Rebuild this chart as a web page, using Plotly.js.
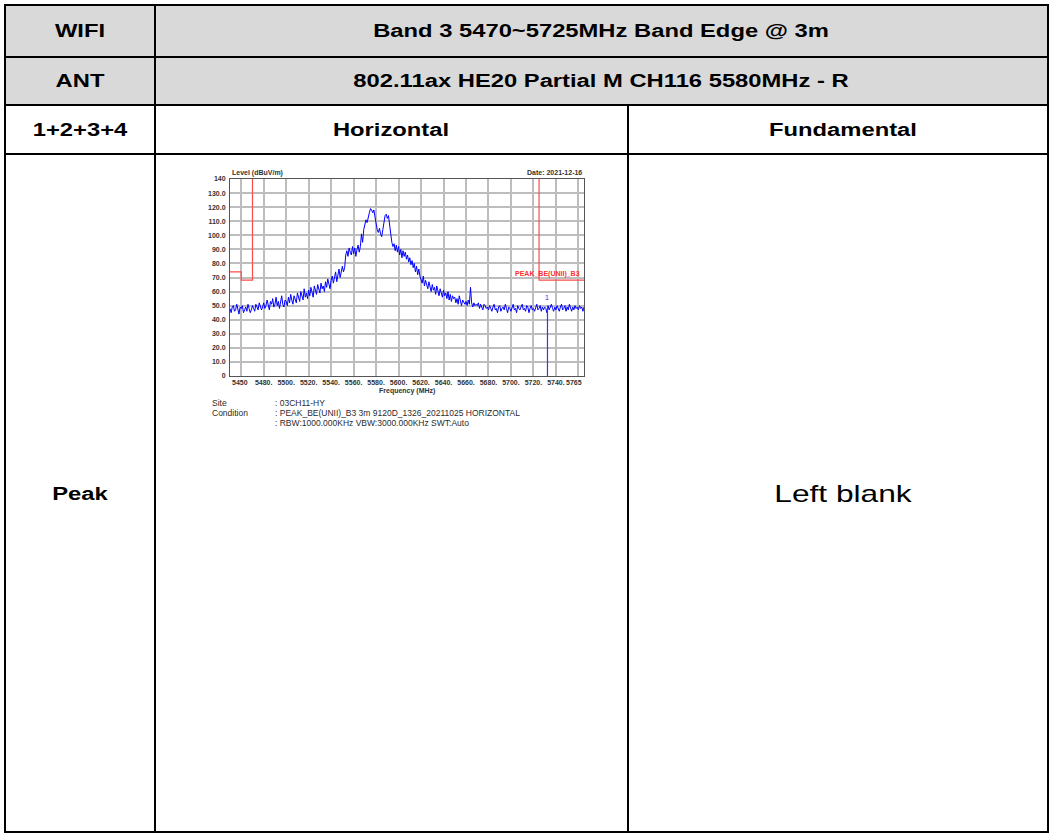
<!DOCTYPE html>
<html><head><meta charset="utf-8">
<script src="https://cdn.plot.ly/plotly-3.0.1.min.js"></script>
<style>
html,body{margin:0;padding:0;background:#fff;}
#page{position:relative;width:1051px;height:835px;overflow:hidden;font-family:"Liberation Sans",Arial,sans-serif;}
.box{position:absolute;}
.hl{position:absolute;height:2px;background:#000;}
.vl{position:absolute;width:2px;background:#000;}
.cell{position:absolute;white-space:nowrap;line-height:1;transform:translate(-50%,-50%) scaleX(1.32);font-weight:bold;font-size:18px;color:#000;}
.note{position:absolute;white-space:nowrap;font-size:8.5px;line-height:1;color:#2b2b2b;transform:translateY(-50%);}
#chart{position:absolute;left:156px;top:156px;width:470px;height:290px;}
</style></head>
<body>
<div id="page">
  <div class="box" style="left:5px;top:5px;width:1043px;height:100px;background:#d9d9d9;"></div>
  <div class="hl" style="left:4px;top:4px;width:1045px;"></div>
  <div class="hl" style="left:4px;top:56px;width:1045px;"></div>
  <div class="hl" style="left:4px;top:104px;width:1045px;"></div>
  <div class="hl" style="left:4px;top:153px;width:1045px;"></div>
  <div class="hl" style="left:4px;top:831px;width:1045px;"></div>
  <div class="vl" style="left:4px;top:4px;height:829px;"></div>
  <div class="vl" style="left:154px;top:4px;height:829px;"></div>
  <div class="vl" style="left:627px;top:104px;height:729px;"></div>
  <div class="vl" style="left:1047px;top:4px;height:829px;"></div>

  <div class="cell" style="left:80px;top:31px;">WIFI</div>
  <div class="cell" style="left:601px;top:31px;">Band 3 5470~5725MHz Band Edge @ 3m</div>
  <div class="cell" style="left:80px;top:81px;">ANT</div>
  <div class="cell" style="left:601px;top:81px;">802.11ax HE20 Partial M CH116 5580MHz - R</div>
  <div class="cell" style="left:80px;top:129.5px;">1+2+3+4</div>
  <div class="cell" style="left:391px;top:129.5px;">Horizontal</div>
  <div class="cell" style="left:843px;top:129.5px;">Fundamental</div>
  <div class="cell" style="left:80px;top:494px;">Peak</div>
  <div class="cell" style="left:843px;top:494px;font-weight:normal;font-size:24px;">Left blank</div>

  <div id="chart"></div>

  <div class="note" style="left:212px;top:403px;">Site</div>
  <div class="note" style="left:275px;top:403px;">: 03CH11-HY</div>
  <div class="note" style="left:212px;top:413px;">Condition</div>
  <div class="note" style="left:275px;top:413px;">: PEAK_BE(UNII)_B3 3m 9120D_1326_20211025 HORIZONTAL</div>
  <div class="note" style="left:275px;top:423px;">: RBW:1000.000KHz VBW:3000.000KHz SWT:Auto</div>
</div>
<script>
// ---- data ----
const freqStart = 5450;   // MHz, first sample
const freqStep = 1;       // MHz between samples
const levels = [
  48,45,49,50,46,47,51,46,44,49,
  48,50,45,47,49,46,51,48,45,47,
  50,48,46,51,49,47,52,50,47,49,
  52,48,50,54,49,47,53,51,55,49,
  51,56,50,53,48,52,57,51,49,54,
  53,50,56,52,58,54,51,57,55,52,
  59,55,53,60,57,54,62,56,59,55,
  61,57,63,59,56,64,60,58,65,61,
  59,66,62,64,60,67,63,69,65,62,
  68,71,66,70,74,67,72,76,70,73,
  78,74,77,86,89,85,91,88,86,92,
  87,91,85,90,93,88,92,101,95,104,
  107,111,109,114,116,119,118,116,118,113,
  107,104,102,105,101,99,104,111,114,115,
  112,114,107,100,95,92,94,89,93,88,
  92,86,90,84,89,85,88,83,86,81,
  84,79,82,77,80,74,78,72,76,71,
  69,66,71,64,68,65,62,67,63,60,
  65,61,63,58,64,60,57,62,59,56,
  61,57,59,55,60,54,58,53,57,55,
  56,52,55,51,57,53,50,54,52,51,
  53,50,54,51,63,52,49,52,50,51,
  50,52,48,51,49,47,51,50,48,49,
  47,50,48,46,49,51,47,48,45,49,
  50,46,48,49,47,51,48,45,49,48,
  46,49,51,47,48,45,50,48,47,49,
  51,47,48,46,50,49,45,48,50,47,
  48,46,49,51,47,48,50,46,49,47,
  49,48,45,50,47,49,51,48,46,49,
  47,50,48,46,49,51,47,48,50,46,
  49,47,51,48,46,49,47,50,48,49,
  47,50,48,49,46,49
];
const limitLeftX = [5450, 5460, 5460, 5470, 5470];
const limitLeftY = [74, 74, 68.2, 68.2, 140];
const limitRightX = [5725, 5725, 5765];
const limitRightY = [140, 68.2, 68.2];
const markerX = [5732.5, 5732.5];
const markerY = [0, 48];
const markerLabel = "1";
const limitLabel = "PEAK_BE(UNII)_B3";
const xTickVals = [5460,5480,5500,5520,5540,5560,5580,5600,5620,5640,5660,5680,5700,5720,5740,5760];
const xTickText = ["","5480.","5500.","5520.","5540.","5560.","5580.","5600.","5620.","5640.","5660.","5680.","5700.","5720.","5740.",""];
const xEndLabels = ["5450","5765"];
const xRange = [5450, 5765];
const yTickVals = [0,10,20,30,40,50,60,70,80,90,100,110,120,130,140];
const yTickText = ["0","10.0","20.0","30.0","40.0","50.0","60.0","70.0","80.0","90.0","100.0","110.0","120.0","130.0","140"];
const yRange = [0, 140];
const yTitle = "Level (dBuV/m)";
const xTitle = "Frequency (MHz)";
const dateText = "Date: 2021-12-16";

const freqs = levels.map((_, i) => freqStart + i * freqStep);

const lblFont = {family: "Liberation Sans, Arial, sans-serif", size: 7, color: "#333", weight: 700};

const traces = [
  {x: limitLeftX, y: limitLeftY, mode: "lines", line: {color: "#ff4a4a", width: 1.2}, hoverinfo: "skip"},
  {x: limitRightX, y: limitRightY, mode: "lines", line: {color: "#ff4a4a", width: 1.2}, hoverinfo: "skip"},
  {x: freqs, y: levels, mode: "lines", line: {color: "#0000ff", width: 1}, hoverinfo: "skip"},
  {x: markerX, y: markerY, mode: "lines", line: {color: "#3333ff", width: 1.2}, hoverinfo: "skip"}
];

const layout = {
  width: 470, height: 290,
  margin: {l: 74, r: 42, t: 23, b: 70, pad: 0},
  paper_bgcolor: "rgba(0,0,0,0)",
  plot_bgcolor: "#ffffff",
  showlegend: false,
  font: {family: "Liberation Sans, Arial, sans-serif", size: 7, color: "#333"},
  xaxis: {
    range: xRange, tickmode: "array", tickvals: xTickVals, ticktext: xTickText,
    showgrid: true, gridcolor: "#bdbdbd", gridwidth: 2, zeroline: false,
    showline: true, mirror: true, linecolor: "#555", linewidth: 1,
    ticks: "", tickfont: lblFont, ticklabelstandoff: 0
  },
  yaxis: {
    range: yRange, tickmode: "array", tickvals: yTickVals, ticktext: yTickText,
    showgrid: true, gridcolor: "#bdbdbd", gridwidth: 2, zeroline: false,
    showline: true, mirror: true, linecolor: "#555", linewidth: 1,
    ticks: "", tickfont: lblFont, ticklabelstandoff: 2
  },
  annotations: [
    {text: yTitle, xref: "paper", yref: "paper", x: 0, y: 1, xanchor: "left", yanchor: "bottom", showarrow: false, font: lblFont, yshift: 0},
    {text: dateText, xref: "paper", yref: "paper", x: 1, y: 1, xanchor: "right", yanchor: "bottom", showarrow: false, font: lblFont, yshift: 1},
    {text: xTitle, xref: "paper", yref: "paper", x: 0.5, y: 0, xanchor: "center", yanchor: "top", showarrow: false, font: lblFont, yshift: -9},
    {text: xEndLabels[0], xref: "x", yref: "paper", x: xRange[0], y: 0, xanchor: "left", yanchor: "top", showarrow: false, font: lblFont, yshift: -1},
    {text: xEndLabels[1], xref: "x", yref: "paper", x: xRange[1], y: 0, xanchor: "right", yanchor: "top", showarrow: false, font: lblFont, yshift: -1},
    {text: limitLabel, xref: "x", yref: "y", x: 5763, y: limitRightY[2], xanchor: "right", yanchor: "bottom", showarrow: false, font: {family: "Liberation Sans, Arial, sans-serif", size: 7, color: "#ff3030", weight: 700}, yshift: 0},
    {text: markerLabel, xref: "x", yref: "y", x: markerX[0], y: 52, xanchor: "center", yanchor: "bottom", showarrow: false, font: {family: "Liberation Sans, Arial, sans-serif", size: 7, color: "#2a2aff"}}
  ]
};

Plotly.newPlot("chart", traces, layout, {staticPlot: true, displayModeBar: false});
</script>
</body></html>
